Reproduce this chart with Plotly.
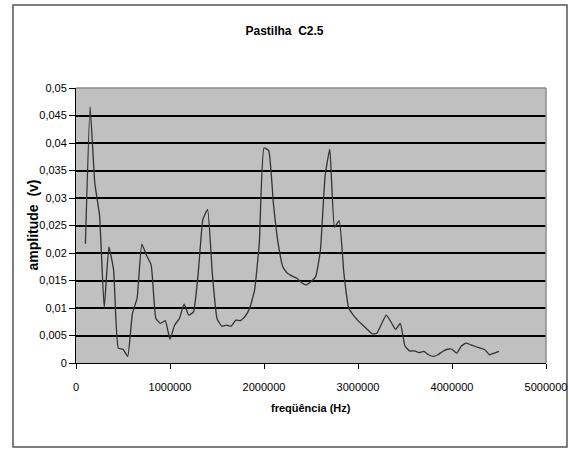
import plotly.graph_objects as go

# Frequency samples (Hz) and measured amplitude (V)
freq_hz = [
    100000, 150000, 200000, 250000, 300000, 350000, 400000, 450000, 500000, 550000,
    600000, 650000, 700000, 750000, 800000, 850000, 900000, 950000, 1000000, 1050000,
    1100000, 1150000, 1200000, 1250000, 1300000, 1350000, 1400000, 1450000, 1500000, 1550000,
    1600000, 1650000, 1700000, 1750000, 1800000, 1850000, 1900000, 1950000, 2000000, 2050000,
    2100000, 2150000, 2200000, 2250000, 2300000, 2350000, 2400000, 2450000, 2500000, 2550000,
    2600000, 2650000, 2700000, 2750000, 2800000, 2850000, 2900000, 2950000, 3000000, 3050000,
    3100000, 3150000, 3200000, 3250000, 3300000, 3350000, 3400000, 3450000, 3500000, 3550000,
    3600000, 3650000, 3700000, 3750000, 3800000, 3850000, 3900000, 3950000, 4000000, 4050000,
    4100000, 4150000, 4200000, 4250000, 4300000, 4350000, 4400000, 4450000, 4500000,
]
amplitude_v = [
    0.0217, 0.0466, 0.0327, 0.0269, 0.0100, 0.0211, 0.0169, 0.0027, 0.0025, 0.0012,
    0.0090, 0.0118, 0.0216, 0.0196, 0.0178, 0.0081, 0.0072, 0.0077, 0.0043, 0.0069,
    0.0081, 0.0107, 0.0087, 0.0093, 0.0163, 0.0261, 0.0279, 0.0163, 0.0081, 0.0067,
    0.0069, 0.0067, 0.0078, 0.0077, 0.0085, 0.0101, 0.0133, 0.0218, 0.0391, 0.0386,
    0.0290, 0.0218, 0.0175, 0.0163, 0.0158, 0.0154, 0.0146, 0.0142, 0.0148, 0.0157,
    0.0205, 0.0340, 0.0389, 0.0247, 0.0259, 0.0163, 0.0101, 0.0087, 0.0077, 0.0069,
    0.0061, 0.0053, 0.0054, 0.0071, 0.0087, 0.0075, 0.0061, 0.0072, 0.0031, 0.0022,
    0.0022, 0.0019, 0.0021, 0.0015, 0.0012, 0.0015, 0.0021, 0.0025, 0.0025, 0.0018,
    0.0031, 0.0036, 0.0033, 0.0030, 0.0027, 0.0024, 0.0015, 0.0018, 0.0021,
]

x_ticks = [0, 1000000, 2000000, 3000000, 4000000, 5000000]
x_tick_labels = ["0", "1000000", "2000000", "3000000", "4000000", "5000000"]
y_ticks = [0, 0.005, 0.01, 0.015, 0.02, 0.025, 0.03, 0.035, 0.04, 0.045, 0.05]
y_tick_labels = ["0", "0,005", "0,01", "0,015", "0,02", "0,025", "0,03", "0,035",
                 "0,04", "0,045", "0,05"]

FONT = "Liberation Sans, Arial, sans-serif"

fig = go.Figure(
    go.Scatter(
        x=freq_hz,
        y=amplitude_v,
        mode="lines",
        line=dict(color="#333333", width=1.3, shape="spline", smoothing=0.4),
        hoverinfo="x+y",
    )
)

fig.update_layout(
    width=569,
    height=449,
    autosize=False,
    margin=dict(l=76, r=23, t=88, b=86, autoexpand=False),
    paper_bgcolor="white",
    plot_bgcolor="#C0C0C0",
    showlegend=False,
    font=dict(family=FONT, size=11, color="black"),
    title=dict(
        text="<b>Pastilha  C2.5</b>",
        x=0.5, xref="container", xanchor="center",
        y=1 - 31 / 449, yref="container", yanchor="middle",
        font=dict(family=FONT, size=12, color="black"),
    ),
)

fig.update_xaxes(
    range=[0, 5000000],
    tickvals=x_ticks,
    ticktext=x_tick_labels,
    ticks="outside", ticklen=5, tickcolor="black", tickwidth=1,
    ticklabelstandoff=9,
    ticklabeloverflow="allow",
    automargin=False,
    showgrid=False, zeroline=False,
    showline=True, linecolor="black", linewidth=1,
    mirror=False,
    tickfont=dict(family=FONT, size=11, color="black"),
)
fig.update_yaxes(
    range=[0, 0.05],
    tickvals=y_ticks,
    ticktext=y_tick_labels,
    ticks="outside", ticklen=6, tickcolor="black", tickwidth=1,
    automargin=False,
    showgrid=True, gridcolor="black", gridwidth=1.6,
    zeroline=False,
    showline=True, linecolor="black", linewidth=1,
    tickfont=dict(family=FONT, size=11, color="black"),
)

# Gray frame on the top and right of the plot area
fig.add_shape(type="line", xref="paper", yref="paper", x0=0, x1=1, y0=1, y1=1,
              line=dict(color="#8C8C8C", width=1.5))
fig.add_shape(type="line", xref="paper", yref="paper", x0=1, x1=1, y0=0, y1=1,
              line=dict(color="#8C8C8C", width=1.5))

# Outer chart border
fig.add_shape(type="rect", xref="paper", yref="paper",
              x0=(13 - 76) / 470, x1=(567 - 76) / 470,
              y0=(363 - 447) / 275, y1=(363 - 5) / 275,
              line=dict(color="#555555", width=1.5), fillcolor="rgba(0,0,0,0)", layer="below")

# Axis titles
fig.add_annotation(text="<b>freqüência (Hz)</b>", xref="paper", yref="paper",
                   x=0.5, y=0, yshift=-45, showarrow=False,
                   xanchor="center", yanchor="middle",
                   font=dict(family=FONT, size=11, color="black"))
fig.add_annotation(text="<b>amplitude  (v)</b>", xref="paper", yref="paper",
                   x=0, xshift=-44, y=0.5, showarrow=False, textangle=-90,
                   xanchor="center", yanchor="middle",
                   font=dict(family=FONT, size=14, color="black"))

fig.write_html("out.html")
